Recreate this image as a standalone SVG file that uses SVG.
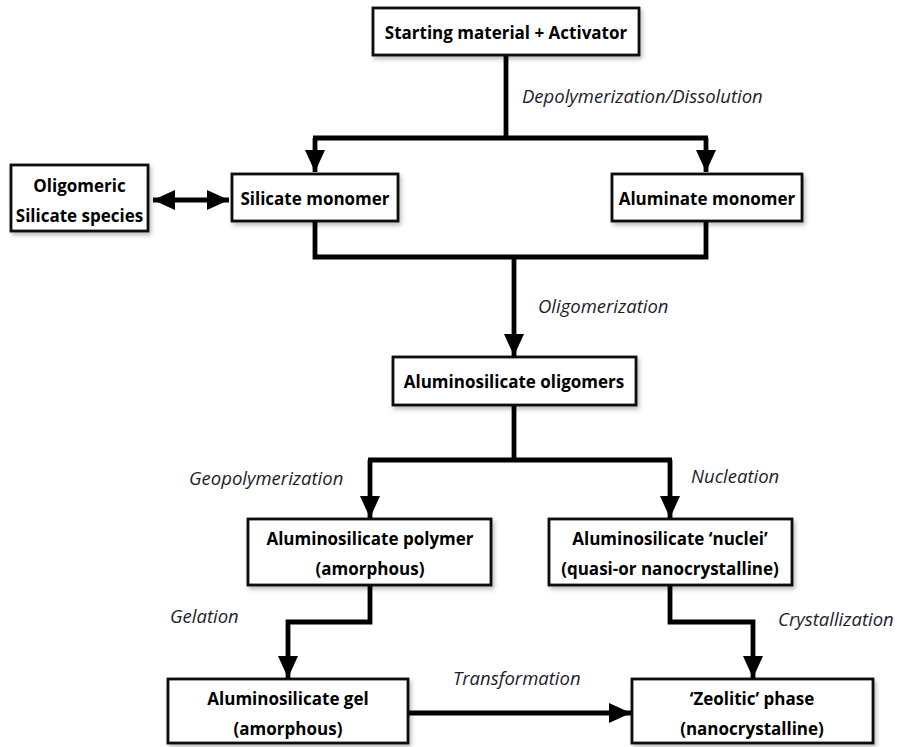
<svg xmlns="http://www.w3.org/2000/svg" width="897" height="747" viewBox="0 0 897 747">
<defs>
<marker id="ah" markerUnits="userSpaceOnUse" markerWidth="22" markerHeight="22" viewBox="0 0 22 22" refX="22" refY="11" orient="auto-start-reverse">
<path d="M0,1 L22,11 L0,21 Z" fill="#000"/>
</marker>
<filter id="sh" x="-10%" y="-10%" width="130%" height="140%">
<feDropShadow dx="2" dy="3" stdDeviation="2" flood-color="#000" flood-opacity="0.25"/>
</filter>
</defs>
<style>
.box{fill:#fff;stroke:#111;stroke-width:2.8;filter:url(#sh)}
.t{font-family:"Open Sans","Liberation Sans",sans-serif;font-weight:bold;font-size:17px;fill:#000;text-anchor:middle;dominant-baseline:central}
.lbl{font-family:"Open Sans","Liberation Sans",sans-serif;font-style:italic;font-size:18.5px;fill:#1d1d2b}
.c{fill:none;stroke:#000;stroke-width:4.8;stroke-linejoin:miter}
</style>
<rect width="897" height="747" fill="#fff"/>
<g id="connectors">
<path class="c" d="M506,55 V138"/>
<path class="c" d="M313,138 H708"/>
<path class="c" d="M315,138 V172" marker-end="url(#ah)"/>
<path class="c" d="M706,138 V172" marker-end="url(#ah)"/>
<path class="c" d="M153,200 H229" marker-start="url(#ah)" marker-end="url(#ah)"/>
<path class="c" d="M315,221 V257 H706 V221"/>
<path class="c" d="M514,257 V356" marker-end="url(#ah)"/>
<path class="c" d="M514,405 V460"/>
<path class="c" d="M368,460 H672"/>
<path class="c" d="M370,460 V518" marker-end="url(#ah)"/>
<path class="c" d="M670,460 V518" marker-end="url(#ah)"/>
<path class="c" d="M370,585 V622 H288 V678" marker-end="url(#ah)"/>
<path class="c" d="M670,585 V622 H753 V678" marker-end="url(#ah)"/>
<path class="c" d="M408,713 H631" marker-end="url(#ah)"/>
</g>
<g id="labels">
<text class="lbl" x="522" y="103">Depolymerization/Dissolution</text>
<text class="lbl" x="538" y="313">Oligomerization</text>
<text class="lbl" x="189" y="485">Geopolymerization</text>
<text class="lbl" x="691" y="483">Nucleation</text>
<text class="lbl" x="170" y="623">Gelation</text>
<text class="lbl" x="778" y="626">Crystallization</text>
<text class="lbl" x="453" y="685">Transformation</text>
</g>
<g id="n-start"><rect class="box" x="373" y="8" width="266" height="47"/><text class="t" x="506" y="32">Starting material + Activator</text></g>
<g id="n-oligomeric"><rect class="box" x="11" y="165" width="137" height="66"/><text class="t" x="79.5" y="185">Oligomeric</text><text class="t" x="79.5" y="215">Silicate species</text></g>
<g id="n-silicate"><rect class="box" x="232" y="174" width="166" height="47"/><text class="t" x="315" y="198">Silicate monomer</text></g>
<g id="n-aluminate"><rect class="box" x="612" y="174" width="190" height="47"/><text class="t" x="707" y="198">Aluminate monomer</text></g>
<g id="n-oligomers"><rect class="box" x="393" y="357" width="243" height="48"/><text class="t" x="514" y="381">Aluminosilicate oligomers</text></g>
<g id="n-polymer"><rect class="box" x="248" y="519" width="243" height="66"/><text class="t" x="370" y="538">Aluminosilicate polymer</text><text class="t" x="370" y="568">(amorphous)</text></g>
<g id="n-nuclei"><rect class="box" x="549" y="519" width="243" height="66"/><text class="t" x="670" y="538">Aluminosilicate ‘nuclei’</text><text class="t" x="670" y="568">(quasi-or nanocrystalline)</text></g>
<g id="n-gel"><rect class="box" x="168" y="679" width="240" height="64"/><text class="t" x="288" y="698">Aluminosilicate gel</text><text class="t" x="288" y="728">(amorphous)</text></g>
<g id="n-zeolitic"><rect class="box" x="632" y="679" width="241" height="64"/><text class="t" x="752" y="698">‘Zeolitic’ phase</text><text class="t" x="752" y="728">(nanocrystalline)</text></g>
</svg>
